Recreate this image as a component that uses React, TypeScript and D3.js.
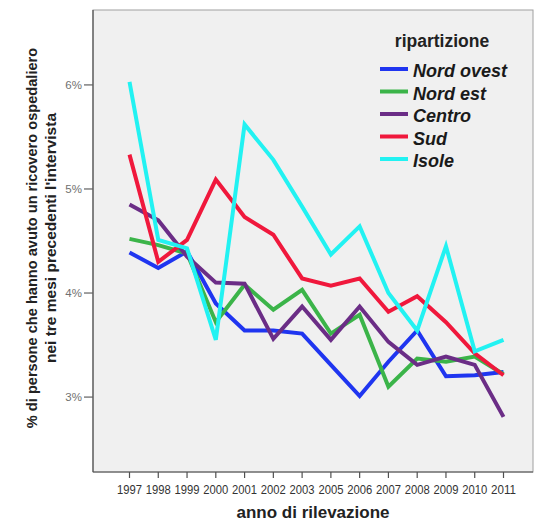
import React from "react";
import * as d3 from "d3";

const years = ["1997","1998","1999","2000","2001","2002","2003","2005","2006","2007","2008","2009","2010","2011"];
const nordOvest = [4.39,4.24,4.40,3.90,3.64,3.64,3.61,3.31,3.01,3.34,3.64,3.20,3.21,3.24];
const nordEst   = [4.52,4.46,4.38,3.72,4.08,3.84,4.03,3.61,3.79,3.10,3.37,3.34,3.39,3.22];
const centro    = [4.85,4.70,4.35,4.10,4.09,3.56,3.87,3.55,3.87,3.53,3.31,3.39,3.31,2.81];
const sud       = [5.33,4.30,4.51,5.09,4.73,4.56,4.14,4.07,4.14,3.82,3.97,3.72,3.42,3.21];
const isole     = [6.03,4.51,4.43,3.55,5.62,5.28,4.83,4.37,4.64,4.00,3.64,4.45,3.44,3.55];
const seriesNames = ["Nord ovest","Nord est","Centro","Sud","Isole"];
const seriesColors = ["#1f35f0","#3bb449","#6b2d86","#f0183c","#22f2f2"];
const seriesValues = [nordOvest, nordEst, centro, sud, isole];
const yTicks = [3,4,5,6];

const W = 535, H = 523;
const L = 93, T = 10, R = 533, B = 472;

export default function App() {
  const x = d3.scalePoint<string>().domain(years).range([129.5, 503.5]);
  const y = d3.scaleLinear().domain([2.28, 6.72]).range([B, T]);
  const line = d3.line<number>().x((_, i) => x(years[i]) as number).y(v => y(v));
  const font = "'Liberation Sans', Arial, sans-serif";
  const order = [0, 1, 2, 3, 4];
  return (
    <svg width={W} height={H} style={{ position: "absolute", left: 0, top: 0 }} fontFamily={font}>
      <rect x={0} y={0} width={W} height={H} fill="#ffffff" />
      <rect x={L} y={T} width={R - L} height={B - T} fill="#f0f0f0" stroke="#a0a0a0" strokeWidth={1} />
      <line x1={L} y1={T} x2={L} y2={B} stroke="#505050" strokeWidth={1.2} />
      <line x1={L} y1={B} x2={R} y2={B} stroke="#505050" strokeWidth={1.2} />
      {yTicks.map(t => (
        <g key={t}>
          <line x1={L - 9} x2={L} y1={y(t)} y2={y(t)} stroke="#606060" strokeWidth={1.2} />
          <text x={L - 11} y={y(t) + 4} textAnchor="end" fontSize={11.5} fill="#707070">{t}%</text>
        </g>
      ))}
      {years.map(yr => (
        <g key={yr}>
          <line x1={x(yr)} x2={x(yr)} y1={B} y2={B + 6} stroke="#505050" strokeWidth={1.2} />
          <text x={x(yr)} y={B + 22} textAnchor="middle" fontSize={13} fill="#333"
            textLength={25} lengthAdjust="spacingAndGlyphs">{yr}</text>
        </g>
      ))}
      {order.map(i => (
        <path key={seriesNames[i]} d={line(seriesValues[i]) || ""} fill="none"
          stroke={seriesColors[i]} strokeWidth={4} strokeLinejoin="miter" strokeLinecap="butt" />
      ))}
      <text x={442} y={47} textAnchor="middle" fontSize={17.5} fontWeight="bold" fill="#222">ripartizione</text>
      {seriesNames.map((n, i) => (
        <g key={n}>
          <line x1={380} x2={408} y1={69 + i * 22.5} y2={69 + i * 22.5} stroke={seriesColors[i]} strokeWidth={4} />
          <text x={413} y={77 + i * 22.5} fontSize={18} fontWeight="bold" fontStyle="italic" fill="#1a1a1a">{n}</text>
        </g>
      ))}
      <text x={313} y={518} textAnchor="middle" fontSize={17} fontWeight="bold" fill="#222">anno di rilevazione</text>
      <g transform={`translate(37,238) rotate(-90)`}>
        <text x={0} y={0} textAnchor="middle" fontSize={14.6} fontWeight="bold" fill="#222">% di persone che hanno avuto un ricovero ospedaliero</text>
        <text x={0} y={19} textAnchor="middle" fontSize={15.5} fontWeight="bold" fill="#222">nei tre mesi precedenti l'intervista</text>
      </g>
    </svg>
  );
}
